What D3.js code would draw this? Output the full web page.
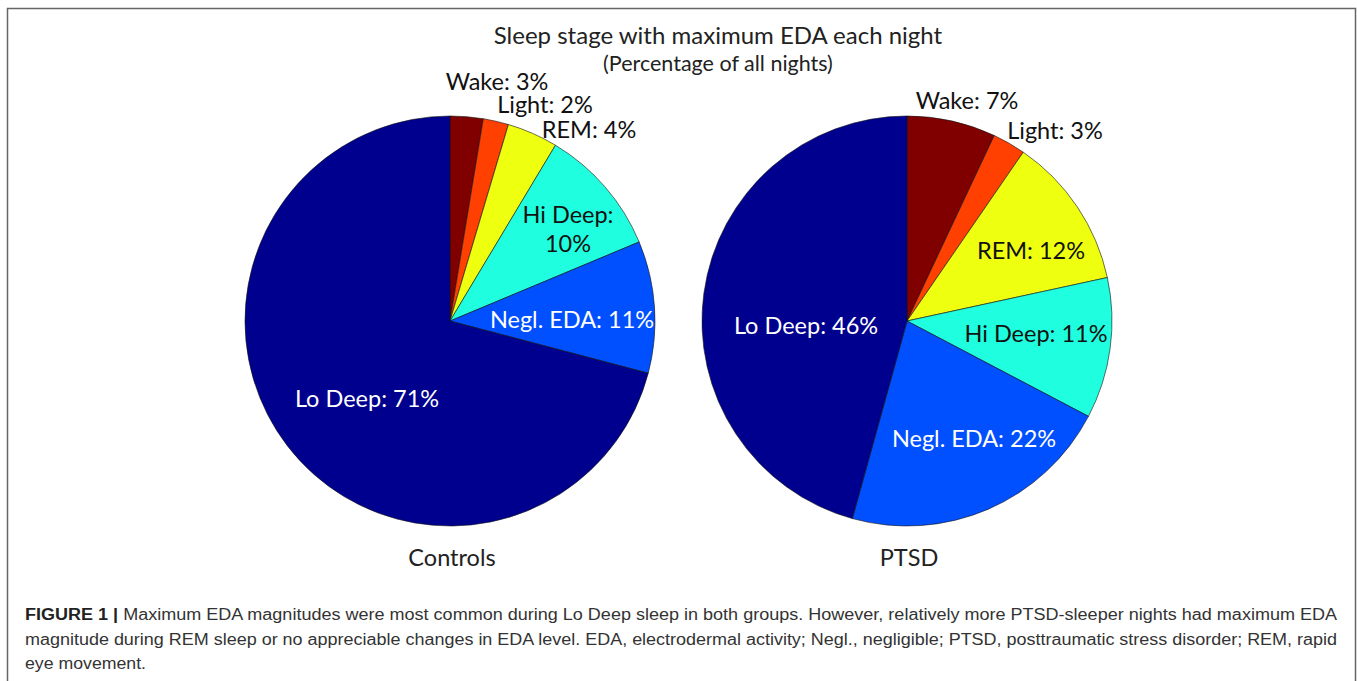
<!DOCTYPE html>
<html lang="en">
<head>
    <meta charset="UTF-8">
    <title>Sleep stage with maximum EDA each night</title>
    <script src="https://cdn.jsdelivr.net/npm/d3@7"></script>
    <style>
        body { margin: 0; background: #fff; }
        svg { display: block; }
    </style>
</head>
<body>
    <div id="chart"></div>

    <script>
        // slice order follows the MATLAB pie: clockwise from 12 o'clock
        const stages = ["Wake", "Light", "REM", "Hi Deep", "Negl. EDA", "Lo Deep"];
        const stageColors = ["#800000", "#ff4000", "#efff10", "#1fffdf", "#0050ff", "#00008f"];
        // shares as measured from slice angles
        const controlsValues = [2.6, 2.0, 4.0, 10.1, 10.4, 70.9];
        const ptsdValues = [7.0, 2.6, 12.0, 11.1, 21.6, 45.7];
        // rounded percentages printed on the labels
        const controlsLabels = ["3%", "2%", "4%", "10%", "11%", "71%"];
        const ptsdLabels = ["7%", "3%", "12%", "11%", "22%", "46%"];

        const width = 1357;
        const height = 681;
        const radius = 205;

        const svg = d3.select("#chart").append("svg")
            .attr("width", width)
            .attr("height", height);

        // figure frame (open at the bottom)
        svg.append("path")
            .attr("d", `M7.5,${height} V8.5 H1355.5 V${height}`)
            .attr("fill", "none")
            .attr("stroke", "#666")
            .attr("stroke-width", 1.5);

        const labelFont = "Lato, 'Open Sans', sans-serif";

        svg.append("text")
            .attr("x", 718).attr("y", 44)
            .attr("text-anchor", "middle")
            .attr("font-family", labelFont)
            .attr("font-size", 24)
            .attr("fill", "#222")
            .text("Sleep stage with maximum EDA each night");

        svg.append("text")
            .attr("x", 718).attr("y", 71)
            .attr("text-anchor", "middle")
            .attr("font-family", labelFont)
            .attr("font-size", 21.5)
            .attr("fill", "#222")
            .text("(Percentage of all nights)");

        // label placement relative to each pie centre
        const charts = [
            {
                name: "Controls", cx: 450, values: controlsValues, labels: controlsLabels,
                pos: [[47, -239], [95, -216], [139, -191], [118, -92], [122, -1], [-83, 78]],
                split: [false, false, false, true, false, false]
            },
            {
                name: "PTSD", cx: 907, values: ptsdValues, labels: ptsdLabels,
                pos: [[60, -220], [148, -190], [124, -70], [129, 13], [67, 118], [-101, 5]],
                split: [false, false, false, false, false, false]
            }
        ];
        const cy = 321;
        const lightText = [false, false, false, false, true, true];

        const pie = d3.pie().sort(null).value(d => d);
        const arc = d3.arc().innerRadius(0).outerRadius(radius);

        charts.forEach(c => {
            const g = svg.append("g")
                .attr("transform", `translate(${c.cx},${cy})`);

            g.selectAll("path")
                .data(pie(c.values))
                .join("path")
                .attr("d", arc)
                .attr("fill", (d, i) => stageColors[i])
                .attr("stroke", "#111")
                .attr("stroke-width", 0.6);

            const lbl = g.selectAll("text.lbl")
                .data(stages)
                .join("text")
                .attr("class", "lbl")
                .attr("text-anchor", "middle")
                .attr("font-family", labelFont)
                .attr("font-size", 23.5)
                .attr("fill", (d, i) => lightText[i] ? "#fff" : "#111")
                .attr("transform", (d, i) => `translate(${c.pos[i][0]},${c.pos[i][1]})`);

            lbl.each(function(d, i) {
                const t = d3.select(this);
                if (c.split[i]) {
                    t.append("tspan").attr("x", 0).attr("y", -6).text(`${d}:`);
                    t.append("tspan").attr("x", 0).attr("y", 23).text(c.labels[i]);
                } else {
                    t.attr("dy", "0.35em").text(`${d}: ${c.labels[i]}`);
                }
            });

            svg.append("text")
                .attr("x", c.cx + 2).attr("y", 566)
                .attr("text-anchor", "middle")
                .attr("font-family", labelFont)
                .attr("font-size", 23.5)
                .attr("fill", "#222")
                .text(c.name);
        });

        // caption
        const captionLines = [
            "Maximum EDA magnitudes were most common during Lo Deep sleep in both groups. However, relatively more PTSD-sleeper nights had maximum EDA",
            "magnitude during REM sleep or no appreciable changes in EDA level. EDA, electrodermal activity; Negl., negligible; PTSD, posttraumatic stress disorder; REM, rapid",
            "eye movement."
        ];
        const capFont = "'Liberation Sans', Arial, sans-serif";
        const cap = svg.append("g")
            .attr("font-family", capFont)
            .attr("font-size", 16)
            .attr("fill", "#333");

        const first = cap.append("text").attr("x", 25).attr("y", 620);
        first.append("tspan").attr("font-weight", "bold").attr("fill", "#222").text("FIGURE 1 | ");
        first.append("tspan").text(captionLines[0]);
        first.attr("textLength", 1312).attr("lengthAdjust", "spacingAndGlyphs");

        cap.append("text").attr("x", 25).attr("y", 645)
            .attr("textLength", 1312).attr("lengthAdjust", "spacingAndGlyphs")
            .text(captionLines[1]);

        cap.append("text").attr("x", 25).attr("y", 669)
            .attr("textLength", 121).attr("lengthAdjust", "spacingAndGlyphs")
            .text(captionLines[2]);
    </script>
</body>
</html>
